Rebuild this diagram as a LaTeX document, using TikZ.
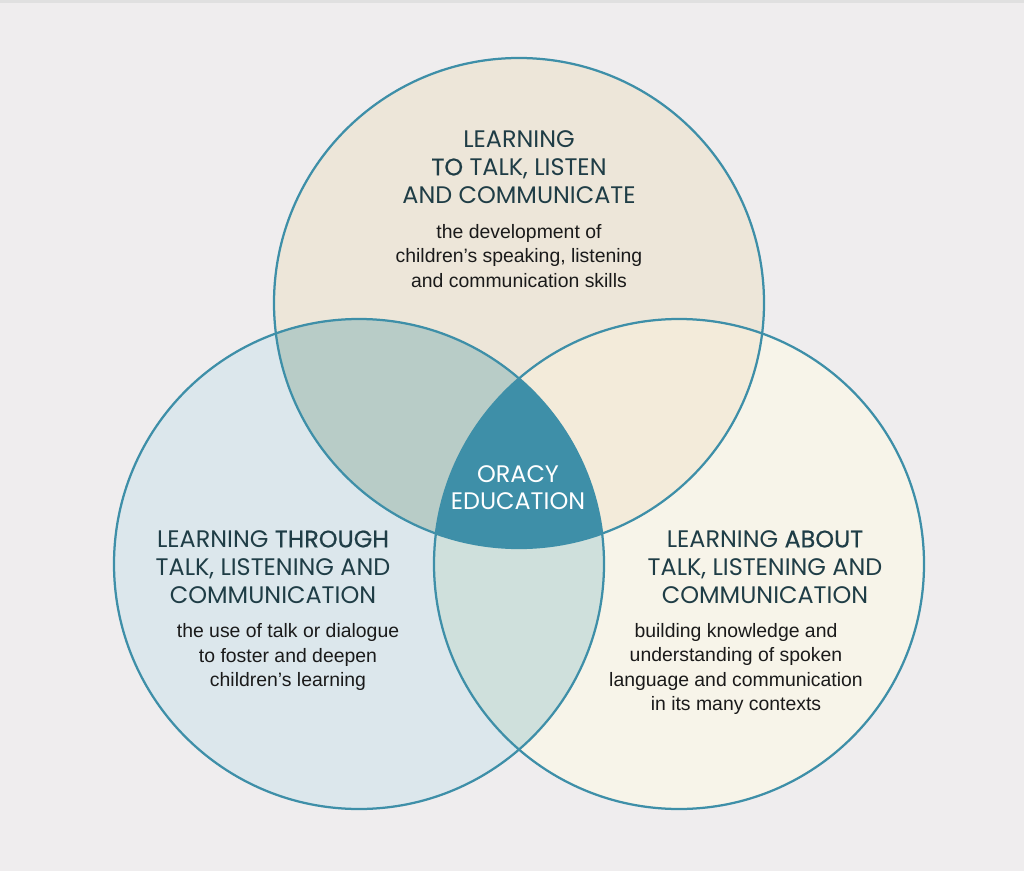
\documentclass[tikz,border=0pt]{standalone}
\usepackage{fontspec}
\setmainfont{Liberation Sans}
\newfontfamily\headfont{Poppins}
\newfontfamily\headbold[FakeBold=0.5]{Poppins}
\usepackage{tikz}
\usetikzlibrary{positioning}

\definecolor{paper}{HTML}{EFEDEE}
\definecolor{rim}{HTML}{3E8FA8}
\definecolor{talkfill}{HTML}{EDE6D9}
\definecolor{throughfill}{HTML}{DCE7EC}
\definecolor{aboutfill}{HTML}{F7F4E9}
\definecolor{tlfill}{HTML}{B8CCC7}
\definecolor{trfill}{HTML}{F3EBDA}
\definecolor{lrfill}{HTML}{CFE0DC}
\definecolor{headink}{HTML}{1F3D46}
\definecolor{bodyink}{HTML}{1A1A1A}

\begin{document}
\begin{tikzpicture}[
    x=0.025cm, y=0.025cm,
    rimline/.style={draw=rim, line width=1.6pt},
    heading/.style={align=center, inner sep=0pt, text=headink, font=\headfont\fontsize{17}{19.9}\selectfont},
    blurb/.style={align=center, inner sep=0pt, text=bodyink, font=\fontsize{13.8}{17.4}\selectfont},
    core/.style={align=center, inner sep=0pt, text=white, font=\headfont\fontsize{17}{19.3}\selectfont}
]
\fill[paper] (0,0) rectangle (1024,871);
\useasboundingbox (0,0) rectangle (1024,871);
\fill[black!12] (0,868) rectangle (1024,871);

\coordinate (ctalk) at (519,568);
\coordinate (cthrough) at (359,307);
\coordinate (cabout) at (679,307);

% circle fills
\fill[talkfill] (ctalk) circle[radius=245];
\fill[throughfill] (cthrough) circle[radius=245];
\fill[aboutfill] (cabout) circle[radius=245];

% overlaps
\begin{scope}
  \clip (ctalk) circle[radius=245];
  \fill[tlfill] (cthrough) circle[radius=245];
  \fill[trfill] (cabout) circle[radius=245];
\end{scope}
\begin{scope}
  \clip (cthrough) circle[radius=245];
  \fill[lrfill] (cabout) circle[radius=245];
\end{scope}
\begin{scope}
  \clip (ctalk) circle[radius=245];
  \clip (cthrough) circle[radius=245];
  \fill[rim] (cabout) circle[radius=245];
\end{scope}

% outlines
\draw[rimline] (ctalk) circle[radius=245];
\draw[rimline] (cthrough) circle[radius=245];
\draw[rimline] (cabout) circle[radius=245];

% texts
\node[heading] (talkhead) at (519,704) {LEARNING\\{\headbold TO} TALK, LISTEN\\AND COMMUNICATE};
\node[blurb] (talkbody) at (519,615) {the development of\\children’s speaking, listening\\and communication skills};

\node[core] (oracy) at (518,383) {ORACY\\EDUCATION};

\node[heading] (throughhead) at (273,304) {LEARNING {\headbold THROUGH}\\TALK, LISTENING AND\\COMMUNICATION};
\node[blurb] (throughbody) at (288,214) {the use of talk or dialogue\\to foster and deepen\\children’s learning};

\node[heading] (abouthead) at (765,304) {LEARNING {\headbold ABOUT}\\TALK, LISTENING AND\\COMMUNICATION};
\node[blurb] (aboutbody) at (736,202) {building knowledge and\\understanding of spoken\\language and communication\\in its many contexts};
\end{tikzpicture}
\end{document}
